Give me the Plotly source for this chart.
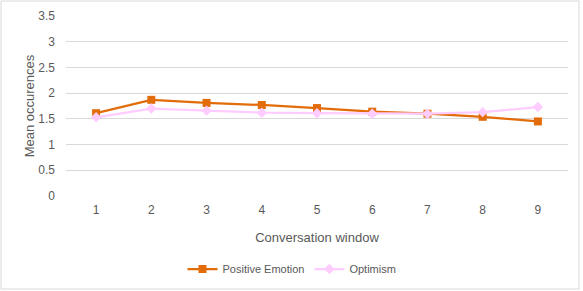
import plotly.graph_objects as go

windows = ["1", "2", "3", "4", "5", "6", "7", "8", "9"]
positive_emotion = [1.61, 1.87, 1.81, 1.77, 1.71, 1.64, 1.60, 1.54, 1.45]
optimism = [1.53, 1.70, 1.66, 1.62, 1.61, 1.60, 1.60, 1.63, 1.73]
y_ticks = [0, 0.5, 1, 1.5, 2, 2.5, 3, 3.5]
y_tick_labels = ["0", "0.5", "1", "1.5", "2", "2.5", "3", "3.5"]

FONT = "Liberation Sans"
TXT = "#595959"

fig = go.Figure()
fig.add_trace(go.Scatter(
    x=windows, y=positive_emotion, name="Positive Emotion", mode="lines+markers",
    line=dict(color="#E36C0A", width=2.25),
    marker=dict(symbol="square", size=8, color="#E36C0A"),
))
fig.add_trace(go.Scatter(
    x=windows, y=optimism, name="Optimism", mode="lines+markers",
    line=dict(color="#FFCCFF", width=2.25),
    marker=dict(symbol="diamond", size=8, color="#FFCCFF"),
))

L, R, T, B = 66, 15, 16, 95
W, H = 583, 291
pw, ph = W - L - R, H - T - B

def px_x(p):
    return (p - L) / pw

def px_y(p):
    return (H - B - p) / ph

fig.update_layout(
    width=W, height=H,
    margin=dict(l=L, r=R, t=T, b=B, autoexpand=False),
    paper_bgcolor="white", plot_bgcolor="white",
    font=dict(family=FONT, size=12, color=TXT),
    showlegend=True,
    legend=dict(orientation="h", x=px_x(292), xanchor="center", y=px_y(269), yanchor="middle",
                font=dict(size=11, color=TXT), itemwidth=30),
    xaxis=dict(
        type="category", showgrid=False, zeroline=False, showline=False, automargin=False,
        ticks="", tickfont=dict(size=12, color=TXT), ticklabelstandoff=5,
        title=dict(text="Conversation window", font=dict(size=13, color=TXT), standoff=16),
    ),
    yaxis=dict(
        range=[0, 3.5], tickvals=y_ticks, ticktext=y_tick_labels, automargin=False,
        showgrid=True, gridcolor="#D9D9D9", gridwidth=1, zeroline=False,
        showline=False, ticks="", tickfont=dict(size=12, color=TXT), ticklabelstandoff=10,
        title=dict(text="Mean occurences", font=dict(size=13, color=TXT), standoff=0),
    ),
    shapes=[dict(type="rect", xref="paper", yref="paper",
                 x0=px_x(1), x1=px_x(579), y0=px_y(289), y1=px_y(1),
                 line=dict(color="#D9D9D9", width=1), fillcolor="rgba(0,0,0,0)", layer="above")],
)

fig.write_html("out.html", config={"displayModeBar": False},
               post_script="document.body.style.margin='0';")
